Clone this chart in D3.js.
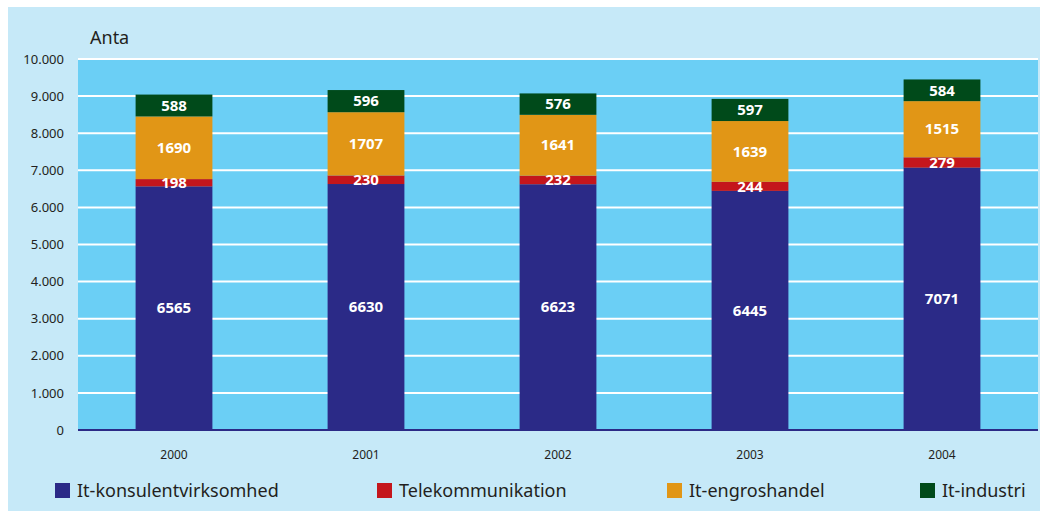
<!DOCTYPE html>
<html>
<head>
<meta charset="utf-8">
<script src="https://cdn.jsdelivr.net/npm/d3@7"></script>
<style>
  body { margin: 0; background: #fff; }
  svg text { font-family: "Noto Sans", "Open Sans", sans-serif; }
</style>
</head>
<body>
<div id="chart"></div>
<script>
// data
var years = ['2000', '2001', '2002', '2003', '2004'];
var konsulent = [6565, 6630, 6623, 6445, 7071];
var telekom = [198, 230, 232, 244, 279];
var engros = [1690, 1707, 1641, 1639, 1515];
var industri = [588, 596, 576, 597, 584];
var seriesNames = ['It-konsulentvirksomhed', 'Telekommunikation', 'It-engroshandel', 'It-industri'];
var colors = ['#2b2a87', '#c4161c', '#e19616', '#004a1a'];
var yTicks = [0, 1000, 2000, 3000, 4000, 5000, 6000, 7000, 8000, 9000, 10000];

var W = 1046, H = 511;
var svg = d3.select('#chart').append('svg')
  .attr('width', W)
  .attr('height', H);

svg.append('rect')
  .attr('x', 8).attr('y', 7)
  .attr('width', 1032).attr('height', 504)
  .attr('fill', '#c6e9f8');

var plotLeft = 78, plotRight = 1038, plotTop = 59, plotBottom = 430;

var x = d3.scaleBand().domain(years).range([plotLeft, plotRight])
  .paddingInner(0.6).paddingOuter(0.3);
var y = d3.scaleLinear().domain([0, 10000]).range([plotBottom, plotTop]);

// plot area
svg.append('rect')
  .attr('x', plotLeft).attr('y', y(10000))
  .attr('width', plotRight - plotLeft).attr('height', plotBottom - y(10000))
  .attr('fill', '#6bcff5');

// gridlines
svg.selectAll('line.grid').data(yTicks.filter(function(d) { return d > 0; }))
  .enter().append('line')
  .attr('class', 'grid')
  .attr('x1', plotLeft).attr('x2', plotRight)
  .attr('y1', function(d) { return y(d); })
  .attr('y2', function(d) { return y(d); })
  .attr('stroke', '#fff')
  .attr('stroke-width', 2);

// y axis labels
var fmt = function(d) { return d3.format(',')(d).replace(/,/g, '.'); };
var yAxis = svg.append('g')
  .attr('transform', 'translate(' + plotLeft + ',0)')
  .call(d3.axisLeft(y).tickValues(yTicks).tickSize(0).tickPadding(14).tickFormat(fmt));
yAxis.select('.domain').remove();
yAxis.selectAll('text')
  .attr('font-size', 13)
  .attr('fill', '#231f20');

svg.append('text')
  .attr('x', 90).attr('y', 44)
  .attr('font-size', 18)
  .attr('fill', '#231f20')
  .text('Anta');

// stacked bars
var series = [konsulent, telekom, engros, industri];
var rows = years.map(function(yr, i) {
  var r = { year: yr };
  seriesNames.forEach(function(n, k) { r[n] = series[k][i]; });
  return r;
});
var stacked = d3.stack().keys(seriesNames)(rows);

var layers = svg.selectAll('g.layer').data(stacked)
  .enter().append('g')
  .attr('class', 'layer')
  .attr('fill', function(d, i) { return colors[i]; });

layers.selectAll('rect').data(function(d) { return d; })
  .enter().append('rect')
  .attr('x', function(d) { return x(d.data.year); })
  .attr('y', function(d) { return y(d[1]); })
  .attr('width', x.bandwidth())
  .attr('height', function(d) { return y(d[0]) - y(d[1]); });

// labels drawn after all layers so the red ones sit on top
var labels = svg.append('g');
stacked.forEach(function(layer) {
  labels.selectAll(null).data(layer)
    .enter().append('text')
    .attr('x', function(d) { return x(d.data.year) + x.bandwidth() / 2; })
    .attr('y', function(d) { return (y(d[0]) + y(d[1])) / 2; })
    .attr('dy', '0.35em')
    .attr('text-anchor', 'middle')
    .attr('font-size', 15)
    .attr('font-weight', 'bold')
    .attr('fill', '#fff')
    .text(function(d) { return d[1] - d[0]; });
});

// baseline
svg.append('line')
  .attr('x1', plotLeft).attr('x2', plotRight)
  .attr('y1', plotBottom).attr('y2', plotBottom)
  .attr('stroke', '#2b2a87')
  .attr('stroke-width', 2);

// x axis labels
var xAxis = svg.append('g')
  .attr('transform', 'translate(0,' + plotBottom + ')')
  .call(d3.axisBottom(x).tickSize(0).tickPadding(20));
xAxis.select('.domain').remove();
xAxis.selectAll('text')
  .attr('font-size', 12)
  .attr('fill', '#231f20');

// legend
var legendX = [55, 377, 667, 920];
var legend = svg.selectAll('g.legend').data(seriesNames)
  .enter().append('g')
  .attr('class', 'legend')
  .attr('transform', function(d, i) { return 'translate(' + legendX[i] + ',483)'; });
legend.append('rect')
  .attr('width', 15).attr('height', 15)
  .attr('fill', function(d, i) { return colors[i]; });
legend.append('text')
  .attr('x', 22).attr('y', 8)
  .attr('dy', '0.35em')
  .attr('font-size', 18)
  .attr('fill', '#231f20')
  .text(function(d) { return d; });
</script>
</body>
</html>
